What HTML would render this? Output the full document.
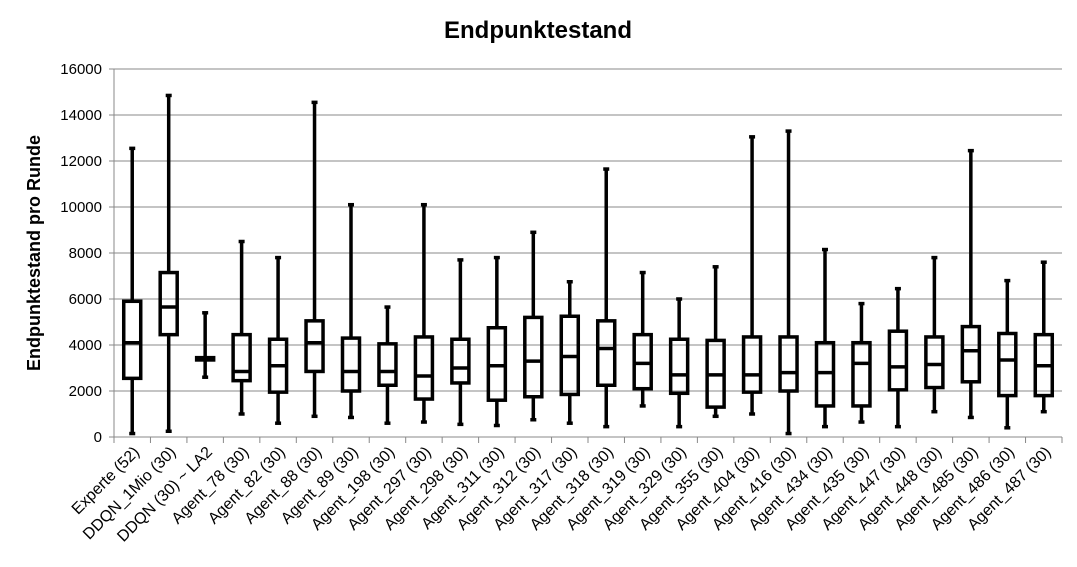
<!DOCTYPE html>
<html><head><meta charset="utf-8"><style>
body{margin:0;background:#fff;}
svg{display:block;font-family:"Liberation Sans",sans-serif;}
</style></head><body>
<svg id="c" width="1077" height="567">
<text x="538" y="38" text-anchor="middle" font-size="24" font-weight="bold" fill="#000">Endpunktestand</text>
<text transform="translate(40,253) rotate(-90)" text-anchor="middle" font-size="18" font-weight="bold">Endpunktestand pro Runde</text>
<g id="grid"></g><g id="marks"></g><g id="labels"></g>
</svg>
<script>
const categories=["Experte (52)","DDQN_1Mio (30)","DDQN (30) ~ LA2","Agent_78 (30)","Agent_82 (30)","Agent_88 (30)","Agent_89 (30)","Agent_198 (30)","Agent_297 (30)","Agent_298 (30)","Agent_311 (30)","Agent_312 (30)","Agent_317 (30)","Agent_318 (30)","Agent_319 (30)","Agent_329 (30)","Agent_355 (30)","Agent_404 (30)","Agent_416 (30)","Agent_434 (30)","Agent_435 (30)","Agent_447 (30)","Agent_448 (30)","Agent_485 (30)","Agent_486 (30)","Agent_487 (30)"];
const mins=[150,250,2600,1000,600,900,850,600,650,550,500,750,600,450,1350,450,900,1000,150,450,650,450,1100,850,400,1100];
const q1s=[2550,4450,3350,2450,1950,2850,2000,2250,1650,2350,1600,1750,1850,2250,2100,1900,1300,1950,2000,1350,1350,2050,2150,2400,1800,1800];
const medians=[4100,5650,3400,2850,3100,4100,2850,2850,2650,3000,3100,3300,3500,3850,3200,2700,2700,2700,2800,2800,3200,3050,3150,3750,3350,3100];
const q3s=[5900,7150,3450,4450,4250,5050,4300,4050,4350,4250,4750,5200,5250,5050,4450,4250,4200,4350,4350,4100,4100,4600,4350,4800,4500,4450];
const maxs=[12550,14850,5400,8500,7800,14550,10100,5650,10100,7700,7800,8900,6750,11650,7150,6000,7400,13050,13300,8150,5800,6450,7800,12450,6800,7600];
const yTicks=[0,2000,4000,6000,8000,10000,12000,14000,16000];
const NS="http://www.w3.org/2000/svg";
const L=114,R=1062,T=69,B=437,yMax=16000;
const y=v=>B-(v/yMax)*(B-T);
const bw=(R-L)/categories.length;
const x=i=>L+bw*(i+0.5);
function mk(tag,attrs,parent){const e=document.createElementNS(NS,tag);for(const k in attrs)e.setAttribute(k,attrs[k]);parent.appendChild(e);return e;}
const grid=document.getElementById('grid'),marks=document.getElementById('marks'),labels=document.getElementById('labels');
yTicks.forEach(t=>{
 const ln=mk('line',{x1:L-5,x2:R,y1:y(t),y2:y(t),stroke:'#888','stroke-width':1},grid);
 
 
 const tx=mk('text',{x:L-12,y:y(t)+5,'text-anchor':'end','font-size':15},grid);
 tx.textContent=t;
 
 
});
mk('line',{x1:L,x2:L,y1:T,y2:B,stroke:'#888'},grid);
for(let i=0;i<=categories.length;i++){mk('line',{x1:L+bw*i,x2:L+bw*i,y1:B,y2:B+6,stroke:'#888'},grid);}
categories.forEach((c,i)=>{
 const cx=x(i),hw=8.5,cap=3;
 const g=mk('g',{stroke:'#000','stroke-width':3.5,fill:'none'},marks);
 
 
 mk('line',{x1:cx,x2:cx,y1:y(maxs[i]),y2:y(q3s[i])},g);
 mk('line',{x1:cx,x2:cx,y1:y(q1s[i]),y2:y(mins[i])},g);
 mk('line',{x1:cx-cap,x2:cx+cap,y1:y(maxs[i]),y2:y(maxs[i])},g);
 mk('line',{x1:cx-cap,x2:cx+cap,y1:y(mins[i]),y2:y(mins[i])},g);
 mk('rect',{x:cx-hw,y:y(q3s[i]),width:2*hw,height:Math.max(0,y(q1s[i])-y(q3s[i]))},g);
 mk('line',{x1:cx-hw,x2:cx+hw,y1:y(medians[i]),y2:y(medians[i])},g);
 const tx=mk('text',{transform:`translate(${cx+8},${B+16}) rotate(-45)`,'text-anchor':'end','font-size':16},labels);
 tx.textContent=c;
 
 
});
</script>
</body></html>
